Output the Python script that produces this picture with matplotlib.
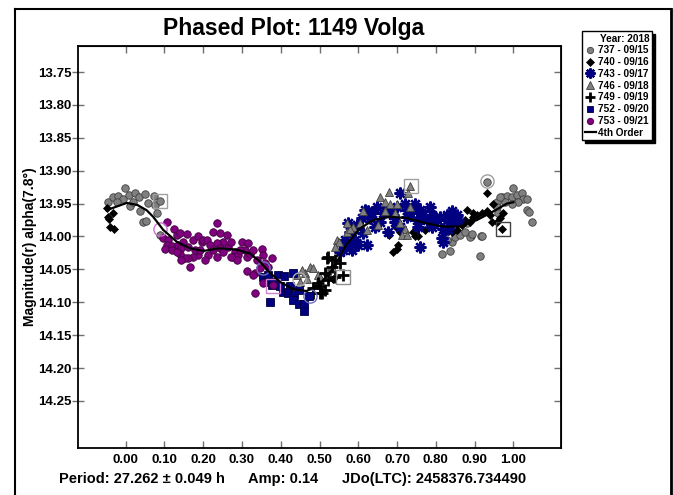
import matplotlib
matplotlib.use('Agg')
import matplotlib.pyplot as plt
from matplotlib.lines import Line2D
import numpy as np

plt.rcParams['font.family'] = ['Liberation Sans', 'DejaVu Sans']
plt.rcParams['font.weight'] = 'bold'

# ---------------- data ----------------
# 737 - 09/15 (gray circles)
p737 = [-0.045, -0.032, -0.019, -0.006, -0.002, 0.009, 0.011, 0.024, 0.035, 0.050, 0.037, 0.058, 0.073, 0.076,
        0.088, 0.045, 0.052, 0.080, -0.023, 0.020, 0.088,
        0.931, 1.000, 0.970, 0.983, 0.996, 1.009, 1.022, 1.026, 1.036, 1.013, 0.996, 0.979, 0.959, 1.036, 1.039,
        1.047, 0.957, 0.961, 0.890, 0.916, 0.815, 0.837, 0.841, 0.828, 0.850, 0.862, 0.875, 0.888, 0.893, 0.914,
        0.918, 0.880, 0.966]
m737 = [13.947, 13.940, 13.938, 13.943, 13.926, 13.937, 13.954, 13.934, 13.940, 13.936, 13.962, 13.949, 13.938, 13.952,
        13.946, 13.978, 13.976, 13.965, 13.947, 13.947, 13.998,
        13.917, 13.926, 13.940, 13.938, 13.940, 13.937, 13.934, 13.943, 13.943, 13.947, 13.950, 13.947, 13.947, 13.959, 13.963,
        13.978, 13.955, 13.964, 13.999, 14.000, 14.026, 14.022, 14.008, 14.005, 14.001, 13.998, 13.993, 14.001, 13.996, 14.029,
        14.000, 13.980, 13.940]

# 740 - 09/16 (black diamonds)
p740 = [-0.045, -0.032, -0.041, -0.030, -0.043, -0.048,
        0.690, 0.699, 0.703, 0.697, 0.746, 0.755, 0.708, 0.772, 0.828, 0.854, 0.880, 0.897, 0.906, 0.918, 0.931,
        0.940, 0.948, 0.931, 0.966, 0.970, 0.974, 0.957, 0.888, 0.867, 0.841, 0.944, 0.875, 0.897, 0.536, 0.680, 0.740]
m740 = [13.971, 13.964, 13.986, 13.988, 13.974, 13.957,
        14.023, 14.019, 14.013, 13.985, 14.000, 14.000, 13.993, 13.990, 13.985, 13.990, 13.960, 13.965, 13.967, 13.965, 13.962,
        13.967, 13.950, 13.934, 13.972, 13.988, 13.965, 13.978, 13.978, 13.983, 13.993, 13.978, 13.975, 13.970, 14.064, 13.998, 13.993]

# 743 - 09/17 (navy asterisks)
p743 = [0.574, 0.587, 0.600, 0.622, 0.579, 0.592, 0.617, 0.635, 0.643, 0.656, 0.677, 0.708, 0.721, 0.734, 0.742,
        0.751, 0.759, 0.785, 0.789, 0.811, 0.815, 0.828, 0.841, 0.854, 0.845, 0.819, 0.802, 0.777, 0.768, 0.725,
        0.690, 0.665, 0.648, 0.626, 0.609, 0.596, 0.579, 0.566, 0.630, 0.708, 0.725, 0.759, 0.794, 0.832, 0.858,
        0.561, 0.613, 0.673, 0.699, 0.746, 0.695, 0.755, 0.789, 0.819, 0.764, 0.828, 0.553, 0.584]
m743 = [13.980, 13.988, 14.013, 14.013, 14.016, 14.005, 13.960, 13.965, 13.985, 13.978, 13.993, 13.934, 13.950, 13.965, 13.960,
        13.975, 14.016, 13.955, 13.967, 13.970, 14.003, 13.975, 13.962, 13.967, 13.978, 13.988, 13.975, 13.975, 13.967, 13.970,
        13.967, 13.965, 13.955, 13.962, 13.972, 13.983, 13.993, 14.005, 13.972, 13.985, 13.960, 13.960, 13.978, 13.988, 13.975,
        14.021, 13.995, 13.960, 13.955, 13.950, 13.978, 13.985, 13.985, 14.008, 13.970, 13.967, 14.024, 14.020]

# 746 - 09/18 (gray triangles)
p746 = [0.544, 0.475, 0.484, 0.463, 0.497, 0.570, 0.587, 0.613, 0.656, 0.680, 0.734, 0.729, 0.669, 0.695, 0.669,
        0.721, 0.712, 0.725, 0.734, 0.604, 0.622, 0.652, 0.579, 0.570, 0.454, 0.441, 0.450, 0.467, 0.501, 0.519,
        0.531, 0.549, 0.540, 0.682, 0.699, 0.708]
m746 = [14.005, 14.046, 14.048, 14.056, 14.059, 13.993, 13.985, 13.962, 13.940, 13.932, 13.924, 13.934, 13.947, 13.965, 13.962,
        13.988, 13.998, 13.998, 13.955, 13.980, 13.990, 13.983, 13.988, 13.980, 14.051, 14.059, 14.069, 14.064, 14.061, 14.053,
        14.046, 14.008, 14.016, 13.950, 13.950, 13.980]

# 749 - 09/19 (black plus)
p749 = [0.501, 0.514, 0.523, 0.501, 0.519, 0.540, 0.484, 0.523, 0.561, 0.553, 0.531, 0.514, 0.497, 0.484, 0.540, 0.506]
m749 = [14.076, 14.081, 14.066, 14.086, 14.033, 14.036, 14.079, 14.031, 14.059, 14.041, 14.046, 14.056, 14.071, 14.086, 14.061, 14.086]

# 752 - 09/20 (navy squares)
p752 = [0.355, 0.368, 0.359, 0.377, 0.381, 0.394, 0.409, 0.432, 0.424, 0.407, 0.419, 0.434, 0.448, 0.432, 0.448,
        0.460, 0.460, 0.372, 0.474, 0.398]
m752 = [14.061, 14.059, 14.069, 14.074, 14.069, 14.059, 14.060, 14.056, 14.075, 14.085, 14.086, 14.089, 14.081, 14.097, 14.102,
        14.102, 14.114, 14.099, 14.090, 14.076]

# 753 - 09/21 (purple circles)
p753 = [0.106, 0.125, 0.132, 0.140, 0.097, 0.110, 0.107, 0.119, 0.101, 0.119, 0.136, 0.144, 0.149, 0.159, 0.174,
        0.187, 0.196, 0.200, 0.209, 0.217, 0.226, 0.235, 0.243, 0.261, 0.252, 0.235, 0.226, 0.213, 0.205, 0.187,
        0.174, 0.162, 0.153, 0.166, 0.179, 0.162, 0.140, 0.132, 0.235, 0.243, 0.265, 0.273, 0.282, 0.278, 0.291,
        0.299, 0.316, 0.308, 0.295, 0.312, 0.321, 0.329, 0.351, 0.338, 0.355, 0.377, 0.359, 0.368, 0.334, 0.312,
        0.329, 0.355, 0.334, 0.346, 0.286, 0.273, 0.252, 0.192, 0.144, 0.381]
m753 = [13.978, 13.988, 13.998, 13.995, 14.003, 14.005, 14.013, 14.014, 14.019, 14.021, 14.013, 14.018, 14.008, 13.996, 14.005,
        14.000, 14.008, 14.005, 14.005, 14.013, 13.993, 13.979, 13.995, 13.998, 14.008, 14.010, 14.021, 14.028, 14.036, 14.028,
        14.031, 14.033, 14.033, 14.047, 14.021, 14.016, 14.026, 14.023, 14.031, 14.018, 14.016, 14.008, 14.023, 14.031, 14.028,
        14.008, 14.010, 14.021, 14.021, 14.031, 14.026, 14.021, 14.019, 14.036, 14.028, 14.032, 14.041, 14.046, 14.056, 14.052,
        14.059, 14.071, 14.086, 14.048, 14.036, 14.031, 14.023, 14.021, 14.036, 14.074]

# flagged (excluded) points: boxed and ringed
box_p = [0.088, 0.381, 0.561, 0.735, 0.972]
box_m = [13.946, 14.075, 14.062, 13.924, 13.988]
box_c = ['#a0a0a0', '#d080d0', '#909090', '#a0a0a0', '#404040']
ring_p = [0.088, 0.355, 0.448, 0.475, 0.931]
ring_m = [13.988, 14.048, 14.065, 14.091, 13.915]
ring_c = ['#d070d0', '#7070c0', '#b0b0b0', '#7070c0', '#a0a0a0']

# 4th order fit curve
fit_p = [-0.049, 0.003, 0.030, 0.054, 0.071, 0.097, 0.132, 0.166, 0.200, 0.243, 0.286, 0.321, 0.346, 0.372, 0.398,
         0.432, 0.467, 0.501, 0.536, 0.570, 0.604, 0.639, 0.682, 0.725, 0.777, 0.819, 0.862, 0.906, 0.948, 0.983, 1.000]
fit_m = [13.960, 13.949, 13.952, 13.960, 13.970, 13.990, 14.008, 14.018, 14.022, 14.018, 14.020, 14.026, 14.038, 14.055, 14.069,
         14.080, 14.083, 14.072, 14.048, 14.012, 13.988, 13.975, 13.970, 13.972, 13.980, 13.985, 13.985, 13.975, 13.962, 13.950, 13.948]

labels = ['737 - 09/15', '740 - 09/16', '743 - 09/17', '746 - 09/18', '749 - 09/19', '752 - 09/20', '753 - 09/21']
xticks = [0.0, 0.1, 0.2, 0.3, 0.4, 0.5, 0.6, 0.7, 0.8, 0.9, 1.0]
yticks = [13.75, 13.80, 13.85, 13.90, 13.95, 14.00, 14.05, 14.10, 14.15, 14.20, 14.25]

# ---------------- styles ----------------
styles = [
    dict(marker='o', mfc='#808080', mec='#404040', ms=5.4, mew=0.6),
    dict(marker='D', mfc='black', mec='black', ms=4.3, mew=0.5),
    dict(marker=(8, 2, 0), color='#000080', ms=8.5, mew=1.7),
    dict(marker='^', mfc='#808080', mec='#404040', ms=6.0, mew=0.6),
    dict(marker='+', color='black', ms=8.0, mew=2.0),
    dict(marker='s', mfc='#000080', mec='#000040', ms=5.5, mew=0.6),
    dict(marker='o', mfc='#800080', mec='#400040', ms=5.4, mew=0.6),
]
series = [(p737, m737), (p740, m740), (p743, m743), (p746, m746), (p749, m749), (p752, m752), (p753, m753)]

W, H = 673, 495
fig = plt.figure(figsize=(W / 100, H / 100), dpi=100)
L, R, T, B = 78.3, 560.7, 45.7, 448.3
ax = fig.add_axes([L / W, 1 - B / H, (R - L) / W, (B - T) / H])

for (px, my), st in zip(series, styles):
    ax.plot(px, my, linestyle='none', **st)

for x, y, c in zip(box_p, box_m, box_c):
    ax.plot([x], [y], linestyle='none', marker='s', ms=9.5, mfc='none', mec=c, mew=1.0)
for x, y, c in zip(ring_p, ring_m, ring_c):
    ax.plot([x], [y], linestyle='none', marker='o', ms=9.5, mfc='none', mec=c, mew=1.0)

ax.plot(fit_p, fit_m, color='black', lw=1.6, zorder=5)

ax.set_xlim(-0.122, 1.122)
ax.set_ylim(14.322, 13.71)
ax.set_xticks(xticks)
ax.set_xticklabels(['%.2f' % v for v in xticks])
ax.set_yticks(yticks)
ax.set_yticklabels(['%.2f' % v for v in yticks])
for s in ax.spines.values():
    s.set_linewidth(1.3)
tc = '#707070'
ax.tick_params(axis='y', direction='inout', length=8, width=1, color=tc, labelsize=9.5, pad=1)
ax.tick_params(axis='x', direction='in', length=5, width=1, color=tc, labelsize=9.5, pad=4)
for lab in ax.get_xticklabels() + ax.get_yticklabels():
    lab.set_fontweight('bold')

sx = ax.secondary_xaxis('top')
sx.set_xticks(xticks)
sx.tick_params(direction='in', length=5, width=1, color=tc, labeltop=False)
sy = ax.secondary_yaxis('right')
sy.set_yticks(yticks)
sy.tick_params(direction='in', length=5, width=1, color=tc, labelright=False)

fig.text(293.5 / W, 1 - 29 / H, 'Phased Plot: 1149 Volga', ha='center', va='center', fontsize=16.5, fontweight='bold')
fig.text(30 / W, 1 - 247 / H, 'Magnitude(r) alpha(7.8°)', rotation=90, ha='center', va='center', fontsize=10, fontweight='bold')
fig.text(59 / W, 1 - 479 / H, 'Period: 27.262 ± 0.049 h', ha='left', va='center', fontsize=10.5, fontweight='bold')
fig.text(248 / W, 1 - 479 / H, 'Amp: 0.14', ha='left', va='center', fontsize=10.5, fontweight='bold')
fig.text(341.5 / W, 1 - 479 / H, 'JDo(LTC): 2458376.734490', ha='left', va='center', fontsize=10.5, fontweight='bold')

# outer frame (open at bottom)
fig.add_artist(Line2D([15 / W, 15 / W], [0, 1 - 9 / H], transform=fig.transFigure, color='black', lw=1.5))
fig.add_artist(Line2D([15 / W, 671 / W], [1 - 9 / H, 1 - 9 / H], transform=fig.transFigure, color='black', lw=1.5))
fig.add_artist(Line2D([671 / W, 671 / W], [0, 1 - 9 / H], transform=fig.transFigure, color='black', lw=2))

handles = [Line2D([], [], linestyle='none', **st) for st in styles]
handles.append(Line2D([], [], color='black', lw=1.6))
leg = fig.legend(handles, labels + ['4th Order'], loc='upper left', bbox_to_anchor=(582 / W, 1 - 31 / H),
                 title='Year: 2018', alignment='right', prop={'size': 7.2, 'weight': 'bold'},
                 title_fontproperties={'size': 7.2, 'weight': 'bold'}, frameon=True, fancybox=False,
                 shadow={'color': 'black', 'alpha': 1.0}, edgecolor='black', borderpad=0.25,
                 labelspacing=0.18, handlelength=1.1, handletextpad=0.3, borderaxespad=0, markerscale=0.85)
leg.get_frame().set_linewidth(1.0)

fig.savefig('out.png', dpi=100)
